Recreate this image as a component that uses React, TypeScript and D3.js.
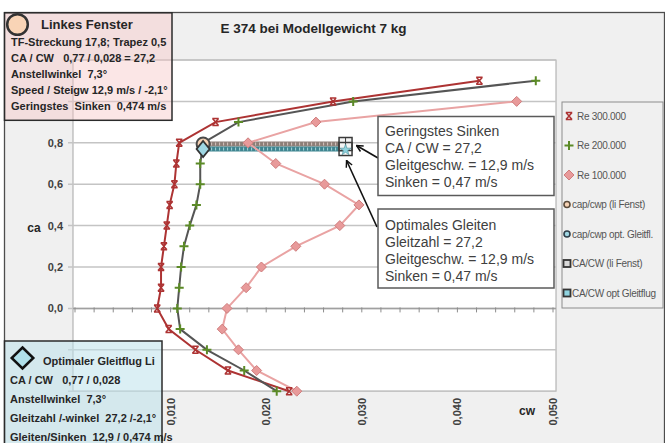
import React from "react";
import * as d3 from "d3";

// Polar of the E 374 airfoil: lift coefficient ca against drag coefficient cw
const caValues = [-0.4, -0.3, -0.2, -0.1, 0.0, 0.1, 0.2, 0.3, 0.4, 0.5, 0.6, 0.7, 0.8, 0.9, 1.0, 1.1];
const cwRe300 = [0.0224, 0.016, 0.0126, 0.0098, 0.0086, 0.009, 0.009, 0.0093, 0.0096, 0.0099, 0.0104, 0.0106, 0.0109, 0.0147, 0.027, 0.0423];
const cwRe200 = [0.0211, 0.0177, 0.0138, 0.011, 0.0107, 0.0109, 0.0111, 0.0114, 0.012, 0.0127, 0.0131, 0.0131, 0.0134, 0.0171, 0.0291, 0.0482];
const caRe100 = [-0.4, -0.3, -0.2, -0.1, 0.0, 0.1, 0.2, 0.3, 0.4, 0.5, 0.6, 0.7, 0.8, 0.9, 1.0];
const cwRe100 = [0.0232, 0.019, 0.0171, 0.0154, 0.0159, 0.0179, 0.0195, 0.0231, 0.0277, 0.0297, 0.0261, 0.021, 0.0181, 0.0252, 0.0462];

// Operating points (left window and optimal glide)
const opCa = 0.77;
const opCwProfile = 0.0134;
const opCwTotal = 0.0283;

const yTickValues = [0.0, 0.2, 0.4, 0.6, 0.8];
const yTickLabels = ["0,0", "0,2", "0,4", "0,6", "0,8"];
const xTickValues = [0.01, 0.02, 0.03, 0.04, 0.05];
const xTickLabels = ["0,010", "0,020", "0,030", "0,040", "0,050"];
const gridValues = [-0.4, -0.2, 0.0, 0.2, 0.4, 0.6, 0.8, 1.0, 1.2];

const legendLabels = [
  "Re 300.000",
  "Re 200.000",
  "Re 100.000",
  "cap/cwp (li Fenst)",
  "cap/cwp opt. Gleitfl.",
  "CA/CW (li Fenst)",
  "CA/CW opt Gleitflug",
];

const title = "E 374 bei Modellgewicht 7 kg";
const leftWindowTitle = "Linkes Fenster";
const leftWindowLines = [
  "TF-Streckung 17,8; Trapez 0,5",
  "CA / CW   0,77 / 0,028 = 27,2",
  "Anstellwinkel  7,3°",
  "Speed / Steigw 12,9 m/s / -2,1°",
  "Geringstes  Sinken  0,474 m/s",
];
const optTitle = "Optimaler Gleitflug Li";
const optLines = [
  "CA / CW   0,77 / 0,028",
  "Anstellwinkel  7,3°",
  "Gleitzahl /-winkel  27,2 /-2,1°",
  "Gleiten/Sinken  12,9 / 0,474 m/s",
];
const sinkNoteLines = ["Geringstes Sinken", "CA / CW = 27,2", "Gleitgeschw. = 12,9 m/s", "Sinken = 0,47 m/s"];
const glideNoteLines = ["Optimales Gleiten", "Gleitzahl = 27,2", "Gleitgeschw. = 12,9 m/s", "Sinken = 0,47 m/s"];

const FONT = "'Liberation Sans', Arial, sans-serif";
const RED = "#ad3333";
const GREEN = "#5b8a26";
const GRAYLINE = "#555555";
const PINK = "#e9a3a3";

const xScale = d3.scaleLinear().domain([0, 0.05]).range([75, 553]);
const yScale = d3.scaleLinear().domain([-0.4, 1.2]).range([391.2, 60]);

const toPts = (cws: number[], cas: number[]) => cws.map((cw, i) => [cw, cas[i]] as [number, number]);
const line = d3
  .line<[number, number]>()
  .x((d) => xScale(d[0]))
  .y((d) => yScale(d[1]));

const XMark = ({ x, y }: { x: number; y: number }) => (
  <path
    transform={`translate(${x},${y})`}
    d="M-3,-3.5L3,3.5M3,-3.5L-3,3.5M-3.2,-3.5H3.2M-3.2,3.5H3.2"
    stroke={RED}
    strokeWidth={1.5}
    fill="none"
  />
);
const PlusMark = ({ x, y }: { x: number; y: number }) => (
  <path transform={`translate(${x},${y})`} d="M-4.5,0H4.5M0,-4.5V4.5" stroke={GREEN} strokeWidth={2} fill="none" />
);
const DiamondMark = ({ x, y }: { x: number; y: number }) => (
  <path transform={`translate(${x},${y})`} d="M0,-5L5,0L0,5L-5,0Z" fill="#e89a9a" stroke="#cf7d7d" strokeWidth={1} />
);

const pre = { whiteSpace: "pre" as const };

export default function App() {
  const re300 = toPts(cwRe300, caValues);
  const re200 = toPts(cwRe200, caValues);
  const re100 = toPts(cwRe100, caRe100);

  const opX0 = xScale(opCwProfile);
  const opX1 = xScale(opCwTotal);
  const opY = yScale(opCa);
  const liY = opY - 5; // left-window series sits just above the optimum series

  const sqX = opX1;
  const sqY = (opY + liY) / 2;

  const starPath = d3.symbol(d3.symbolStar, 40)() as string;

  return (
    <div>
      <style>{`body{margin:0}`}</style>
      <svg width={665} height={443} style={{ display: "block", fontFamily: FONT }}>
        <defs>
          <marker id="arrowHead" viewBox="0 0 10 10" refX={9} refY={5} markerWidth={8} markerHeight={8} orient="auto" markerUnits="userSpaceOnUse">
            <path d="M1,1L9,5L1,9" fill="none" stroke="#111" strokeWidth={1.8} />
          </marker>
        </defs>

        {/* chart frame */}
        <rect x={4.5} y={12.5} width={660} height={440} fill="#f0f0f0" stroke="#4d4d4d" strokeWidth={1.3} />

        <text x={313.5} y={33} textAnchor="middle" fontSize={13.5} fontWeight="bold" fill="#262626">
          {title}
        </text>

        {/* plot area */}
        <rect x={73} y={60} width={483} height={331.2} fill="#ffffff" stroke="#a6a6a6" strokeWidth={1} />
        {gridValues.map((v) => (
          <line key={v} x1={68} x2={556} y1={yScale(v)} y2={yScale(v)} stroke="#c4c4c4" strokeWidth={1.5} />
        ))}
        <line x1={73} x2={556} y1={yScale(0)} y2={yScale(0)} stroke="#a0a0a0" strokeWidth={1.5} />
        {d3.range(0, 26).map((i) => {
          const x = xScale(i * 0.002);
          return <line key={i} x1={x} x2={x} y1={yScale(0) - 1} y2={yScale(0) + 4} stroke="#8c8c8c" strokeWidth={1} />;
        })}

        {yTickValues.map((v, i) => (
          <text key={v} x={63} y={yScale(v) + 4} textAnchor="end" fontSize={11} fontWeight="bold" fill="#404040">
            {yTickLabels[i]}
          </text>
        ))}
        <text x={34} y={yScale(0.4) + 6} textAnchor="middle" fontSize={12} fontWeight="bold" fill="#262626">
          ca
        </text>
        {xTickValues.map((v, i) => (
          <text
            key={v}
            transform={`translate(${xScale(v) + 4},398) rotate(-90)`}
            textAnchor="end"
            fontSize={11}
            fontWeight="bold"
            fill="#404040"
          >
            {xTickLabels[i]}
          </text>
        ))}
        <text x={527} y={415} textAnchor="middle" fontSize={12} fontWeight="bold" fill="#262626">
          cw
        </text>

        {/* CA/CW bands between profile and total drag */}
        <line x1={opX0} x2={opX1} y1={liY} y2={liY} stroke="#8d7f78" strokeWidth={5} />
        <line x1={opX0} x2={opX1} y1={liY} y2={liY} stroke="#d9c6c0" strokeWidth={3} strokeDasharray="1 3" />
        <line x1={opX0} x2={opX1} y1={opY} y2={opY} stroke="#3f8590" strokeWidth={5} />
        <line x1={opX0} x2={opX1} y1={opY} y2={opY} stroke="#a9d6de" strokeWidth={3} strokeDasharray="1 3" />

        {/* polar curves */}
        <path d={line(re300) ?? ""} fill="none" stroke={RED} strokeWidth={2} />
        <path d={line(re200) ?? ""} fill="none" stroke={GRAYLINE} strokeWidth={2} />
        <path d={line(re100) ?? ""} fill="none" stroke={PINK} strokeWidth={2} />
        {re300.map((d, i) => (
          <XMark key={i} x={xScale(d[0])} y={yScale(d[1])} />
        ))}
        {re200.map((d, i) => (
          <PlusMark key={i} x={xScale(d[0])} y={yScale(d[1])} />
        ))}
        {re100.map((d, i) => (
          <DiamondMark key={i} x={xScale(d[0])} y={yScale(d[1])} />
        ))}

        {/* operating point markers */}
        <circle cx={opX0} cy={liY} r={6.5} fill="#f6d2b4" stroke="#4a4a4a" strokeWidth={2} />
        <path transform={`translate(${opX0},${opY})`} d="M0,-8L6.5,0L0,8L-6.5,0Z" fill="#9fd6e2" stroke="#333" strokeWidth={1.8} />

        <rect x={sqX - 6.5} y={liY - 6.5} width={13} height={13} fill="#f4f4f4" stroke="#3a3a3a" strokeWidth={1.5} />
        <line x1={sqX} x2={sqX} y1={liY - 6.5} y2={liY + 6.5} stroke="#3a3a3a" strokeWidth={1} />
        <rect x={sqX - 6.5} y={opY - 6.5} width={13} height={13} fill="none" stroke="#3a3a3a" strokeWidth={1.5} />
        <path transform={`translate(${sqX},${opY + 1})`} d={starPath} fill="#8fd3df" stroke="#4a8c96" strokeWidth={0.6} />

        {/* annotation callouts */}
        <line x1={378} y1={158} x2={sqX + 11} y2={sqY - 1} stroke="#111" strokeWidth={1.6} markerEnd="url(#arrowHead)" />
        <line x1={377} y1={227} x2={sqX + 1} y2={sqY + 14} stroke="#111" strokeWidth={1.6} markerEnd="url(#arrowHead)" />

        <rect x={378} y={116.5} width={176} height={79} fill="#ffffff" stroke="#5a5a5a" strokeWidth={1.5} />
        {sinkNoteLines.map((t, i) => (
          <text key={t} x={385} y={136 + i * 17} fontSize={14} fill="#404040" style={pre}>
            {t}
          </text>
        ))}
        <rect x={378} y={209} width={176} height={79} fill="#ffffff" stroke="#5a5a5a" strokeWidth={1.5} />
        {glideNoteLines.map((t, i) => (
          <text key={t} x={385} y={229.5 + i * 17} fontSize={14} fill="#404040" style={pre}>
            {t}
          </text>
        ))}

        {/* legend */}
        <rect x={562} y={102} width={101} height={206} fill="#f0f0f0" stroke="#8c8c8c" strokeWidth={1} />
        {legendLabels.map((t, i) => {
          const y = 116 + i * 29.5;
          const mx = i < 3 ? 569 : 567;
          let mark: React.ReactNode = null;
          if (i === 0) mark = <XMark x={mx} y={y} />;
          else if (i === 1) mark = <PlusMark x={mx} y={y} />;
          else if (i === 2) mark = <DiamondMark x={mx} y={y} />;
          else if (i === 3) mark = <circle cx={mx} cy={y} r={3} fill="#f6d2b4" stroke="#5a4a3a" strokeWidth={1.6} />;
          else if (i === 4) mark = <circle cx={mx} cy={y} r={3} fill="#9fd6e2" stroke="#2f3f4a" strokeWidth={1.6} />;
          else if (i === 5) mark = <rect x={mx - 3.5} y={y - 3.5} width={7} height={7} fill="#d8d8d8" stroke="#333" strokeWidth={1.8} />;
          else mark = <rect x={mx - 3.5} y={y - 3.5} width={7} height={7} fill="#8fd3df" stroke="#333" strokeWidth={1.8} />;
          return (
            <g key={t}>
              {mark}
              <text x={i < 3 ? 577 : 572} y={y + 3.5} fontSize={10} fill="#555" letterSpacing={-0.3}>
                {t}
              </text>
            </g>
          );
        })}

        {/* info box: left window */}
        <rect x={4.5} y={12.8} width={167.5} height={107.5} fill="rgb(247,200,200)" fillOpacity={0.45} stroke="#2b2b2b" strokeWidth={1.5} />
        <circle cx={17.5} cy={24.5} r={10.3} fill="#f9d4b6" stroke="#333" strokeWidth={2.5} />
        <text x={41} y={29} fontSize={13} fontWeight="bold" fill="#262626">
          {leftWindowTitle}
        </text>
        {leftWindowLines.map((t, i) => (
          <text key={t} x={11} y={45.5 + i * 16.2} fontSize={11} fontWeight="bold" fill="#262626" style={pre}>
            {t}
          </text>
        ))}

        {/* info box: optimal glide */}
        <rect x={4.5} y={341} width={157.5} height={110} fill="rgb(190,225,235)" fillOpacity={0.55} stroke="#2b2b2b" strokeWidth={1.5} />
        <path transform="translate(22.5,358)" d="M0,-10.5L10.8,0L0,10.5L-10.8,0Z" fill="#b0e0ea" stroke="#111" strokeWidth={2.5} />
        <text x={43} y={365} fontSize={11} fontWeight="bold" fill="#262626">
          {optTitle}
        </text>
        {optLines.map((t, i) => (
          <text key={t} x={10} y={384 + i * 19} fontSize={11} fontWeight="bold" fill="#262626" style={pre}>
            {t}
          </text>
        ))}
      </svg>
    </div>
  );
}
